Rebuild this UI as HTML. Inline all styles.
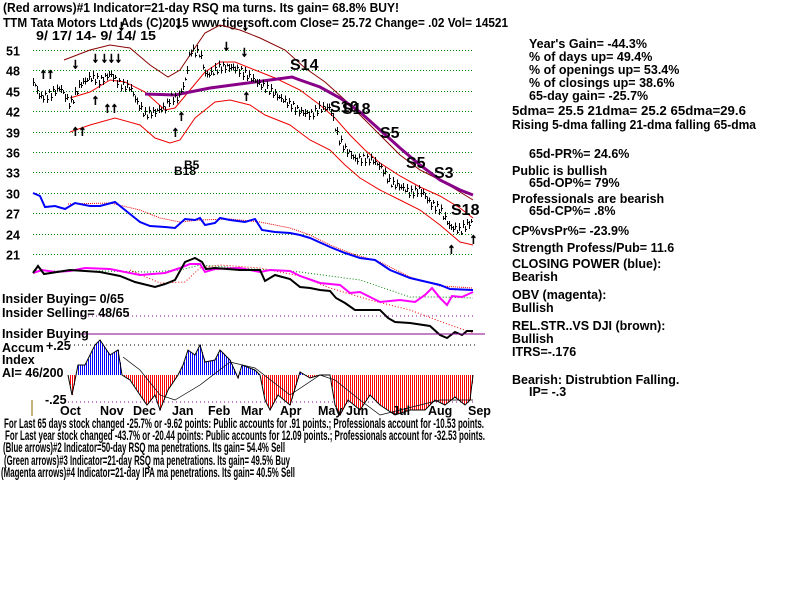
<!DOCTYPE html>
<html><head><meta charset="utf-8"><style>
body{margin:0;background:#fff;width:800px;height:600px;overflow:hidden}
svg{display:block}
text{font-family:"Liberation Sans",sans-serif;font-weight:bold;fill:#000}
.r{font-size:12.5px}
.b{font-size:14px;font-weight:normal}
line{shape-rendering:crispEdges}
</style></head><body>
<svg id="s" width="800" height="600" viewBox="0 0 800 600">
<text x="3" y="12" font-size="13" textLength="396" lengthAdjust="spacingAndGlyphs">(Red arrows)#1 Indicator=21-day RSQ ma turns. Its gain= 68.8% BUY!</text>
<text x="3" y="27" font-size="13" textLength="505" lengthAdjust="spacingAndGlyphs">TTM   Tata Motors Ltd Ads   (C)2015 www.tigersoft.com     Close=  25.72  Change= .02 Vol= 14521</text>
<text x="36" y="40" font-size="13" textLength="120" lengthAdjust="spacingAndGlyphs">9/ 17/ 14-  9/ 14/ 15</text>
<g id="grid" stroke="#080" stroke-dasharray="1,2" stroke-width="1"></g>
<g id="lab"></g>
<g fill="none" stroke-width="1">
<polyline stroke="#800" points="64,60 90,50 110,45 130,48 150,65 168,77 180,70 190,55 205,33 220,25 240,30 260,38 285,50 305,68 325,82 345,100 360,115 380,135 400,155 420,170 440,180 460,192 473,200"/>
<polyline stroke="#e00" points="70,98 90,92 110,80 125,82 145,92 165,110 175,108 190,90 205,72 220,62 235,62 255,70 275,78 300,90 320,105 335,118 350,135 365,150 380,163 400,176 420,187 440,196 460,208 473,218"/>
<polyline stroke="#e00" points="70,132 90,125 115,118 140,125 155,138 170,143 180,140 195,118 215,102 230,100 250,105 265,115 290,125 310,140 330,150 345,165 360,178 380,190 400,200 420,210 440,225 460,242 473,245"/>
<polyline stroke="#808" stroke-width="3" points="145,94 175,95 190,92 210,88 240,84 270,80 292,77 300,80 320,87 340,98 360,112 380,130 400,148 420,165 440,180 460,190 473,195"/>
<polyline stroke="#e00" stroke-dasharray="1,1" points="68,204 110,203 140,210 160,218 180,222 200,220 230,219 260,222 290,228 310,235 330,245 350,253 380,262 410,277 440,286 473,288"/>
<polyline stroke="#00f" stroke-width="2" points="33,193 40,196 45,207 55,206 65,209 75,203 90,206 100,206 115,202 125,210 140,222 150,226 165,227 175,228 185,219 195,220 200,218 205,225 215,223 220,218 230,220 245,222 255,219 262,230 275,232 290,233 300,235 310,238 330,247 345,253 360,258 375,260 390,270 410,278 440,285 450,289 473,290"/>
<polyline stroke="#080" stroke-dasharray="1,2" points="33,271 100,271 150,272 180,270 200,265 240,268 300,272 360,280 410,297 440,297 473,298"/>
<polyline stroke="#e00" stroke-dasharray="1,2" points="130,270 160,283 185,282 200,268 220,265 260,268 300,276 330,288 370,300 410,310 450,325 473,333"/>
<polyline stroke="#f0f" stroke-width="2" points="33,273 42,270 55,272 70,271 85,268 110,269 140,275 165,273 180,268 190,264 200,264 205,272 215,269 240,268 260,272 270,270 290,271 300,276 320,283 340,285 350,293 360,292 370,297 380,302 400,300 415,302 425,295 432,288 440,298 447,305 452,296 462,297 473,292"/>
<polyline stroke="#000" stroke-width="2" points="33,273 38,266 44,274 70,270 100,272 120,276 135,282 155,287 165,284 175,280 185,262 195,258 202,262 206,269 215,268 240,270 260,270 265,281 275,275 290,279 300,287 310,288 320,290 330,291 336,298 345,303 355,310 380,310 388,318 395,322 410,323 430,326 440,335 447,338 455,332 462,335 467,331 473,331"/>
</g>
<line x1="80" y1="334" x2="485" y2="334" stroke="#808" stroke-width="1"/>
<line x1="80" y1="316" x2="475" y2="316" stroke="#808" stroke-dasharray="1,3"/>
<line x1="70" y1="345" x2="475" y2="345" stroke="#000" stroke-dasharray="1,3"/>
<line x1="60" y1="402" x2="475" y2="402" stroke="#808" stroke-dasharray="1,3"/>
<line x1="32" y1="400" x2="32" y2="416" stroke="#860"/>
<g id="ai"></g>
<g id="px" stroke="#000"></g>
<g font-size="16">
<text x="290" y="70">S14</text><text x="330" y="112">S10</text><text x="342" y="114">S18</text>
<text x="380" y="138">S5</text><text x="406" y="168">S5</text><text x="434" y="178">S3</text><text x="451" y="215">S18</text>
<text x="174" y="175" font-size="12">B18</text><text x="184" y="169" font-size="12">B5</text>
</g>
<g class="r">
<text x="2" y="303">Insider Buying= 0/65</text>
<text x="2" y="317">Insider Selling= 48/65</text>
<text x="2" y="338">Insider Buying</text>
<text x="2" y="352">Accum</text><text x="46" y="350">+.25</text>
<text x="2" y="364">Index</text>
<text x="2" y="377">AI= 46/200</text>
<text x="45" y="404">-.25</text>
<text x="60" y="415">Oct</text><text x="100" y="415">Nov</text><text x="133" y="415">Dec</text><text x="172" y="415">Jan</text><text x="208" y="415">Feb</text><text x="241" y="415">Mar</text><text x="280" y="415">Apr</text><text x="318" y="415">May</text><text x="346" y="415">Jun</text><text x="392" y="415">Jul</text><text x="428" y="415">Aug</text><text x="468" y="415">Sep</text>
</g>
<g class="r">
<text x="529" y="48">Year's Gain= -44.3%</text>
<text x="529" y="61">% of days up= 49.4%</text>
<text x="529" y="74">% of openings up= 53.4%</text>
<text x="529" y="87">% of closings up= 38.6%</text>
<text x="529" y="100">65-day gain= -25.7%</text>
<text x="512" y="115" textLength="234" lengthAdjust="spacingAndGlyphs">5dma= 25.5 21dma= 25.2 65dma=29.6</text>
<text x="512" y="129" textLength="244" lengthAdjust="spacingAndGlyphs">Rising 5-dma  falling 21-dma  falling 65-dma</text>
<text x="529" y="158">65d-PR%= 24.6%</text>
<text x="512" y="175">Public is bullish</text>
<text x="529" y="187">65d-OP%= 79%</text>
<text x="512" y="203">Professionals are bearish</text>
<text x="529" y="215">65d-CP%= .8%</text>
<text x="512" y="235">CP%vsPr%= -23.9%</text>
<text x="512" y="252">Strength Profess/Pub= 11.6</text>
<text x="512" y="268">CLOSING POWER (blue):</text>
<text x="512" y="281">Bearish</text>
<text x="512" y="299">OBV (magenta):</text>
<text x="512" y="312">Bullish</text>
<text x="512" y="330">REL.STR..VS DJI (brown):</text>
<text x="512" y="343">Bullish</text>
<text x="512" y="356">ITRS=-.176</text>
<text x="512" y="384">Bearish: Distrubtion Falling.</text>
<text x="529" y="396">IP= -.3</text>
</g>
<g class="b">
<text x="4" y="428" textLength="480" lengthAdjust="spacingAndGlyphs">For Last 65 days stock changed -25.7% or -9.62 points:  Public accounts for  .91 points.;  Professionals account for -10.53 points.</text>
<text x="5" y="440" textLength="480" lengthAdjust="spacingAndGlyphs">For Last year stock changed -43.7% or -20.44 points:  Public accounts for  12.09 points.;  Professionals account for -32.53 points.</text>
<text x="3" y="452" textLength="282" lengthAdjust="spacingAndGlyphs">(Blue arrows)#2 Indicator=50-day RSQ ma penetrations. Its gain= 54.4% Sell</text>
<text x="4" y="465" textLength="286" lengthAdjust="spacingAndGlyphs">(Green arrows)#3 Indicator=21-day RSQ ma penetrations. Its gain= 49.5% Buy</text>
<text x="1" y="477" textLength="294" lengthAdjust="spacingAndGlyphs">(Magenta arrows)#4 Indicator=21-day IPA ma penetrations. Its gain= 40.5% Sell</text>
</g>
</svg>
<script>
var NS="http://www.w3.org/2000/svg";
function el(p,t,a,tx){var e=document.createElementNS(NS,t);for(var k in a)e.setAttribute(k,a[k]);if(tx)e.textContent=tx;document.getElementById(p).appendChild(e);}
var labs=[51,48,45,42,39,36,33,30,27,24,21];
labs.forEach(function(v,i){var y=Math.round(50+i*20.4)+0.5;el("grid","line",{x1:33,y1:y,x2:473,y2:y});el("lab","text",{x:6,y:y+5,"font-size":12.5},String(v));});
function interp(pts,x){for(var i=0;i<pts.length-1;i++){if(x>=pts[i][0]&&x<=pts[i+1][0]){var t=(x-pts[i][0])/(pts[i+1][0]-pts[i][0]);return pts[i][1]+t*(pts[i+1][1]-pts[i][1]);}}return pts[pts.length-1][1];}
var ai=[[68,375],[72,395],[78,365],[85,365],[95,345],[100,340],[110,355],[118,350],[122,375],[130,380],[140,395],[147,405],[155,395],[160,410],[168,390],[178,375],[183,365],[188,350],[195,355],[200,345],[205,362],[215,360],[220,350],[230,360],[238,378],[242,365],[255,370],[260,375],[265,400],[270,410],[278,395],[290,405],[300,372],[310,378],[320,375],[330,375],[335,405],[340,415],[348,400],[360,410],[370,395],[380,405],[395,415],[410,410],[425,410],[435,400],[445,405],[455,397],[465,405],[470,400],[473,375]];
var pl="";for(var x=68;x<=473;x+=2){var y=interp(ai,x);el("ai","line",{x1:x+0.5,y1:375,x2:x+0.5,y2:y,stroke:y<375?"#00f":"#f00","stroke-width":1});}
ai.forEach(function(p){pl+=p[0]+","+p[1]+" ";});
el("ai","polyline",{points:pl,fill:"none",stroke:"#000","stroke-width":1});
el("ai","polyline",{points:"123,357 140,370 160,395 175,400 200,385 230,362 255,368 290,395 320,375 335,380 360,400 380,415 400,410 440,400 473,400",fill:"none",stroke:"#000","stroke-width":0.7});
var pr=[[33,46.5],[40,44],[50,44.5],[60,45.5],[70,43],[80,46],[90,47],[100,46.5],[110,47.5],[120,46],[130,45.5],[138,43],[145,41.5],[155,42],[165,42.5],[170,44],[178,44],[185,46.5],[190,51],[200,50.5],[205,47.5],[210,47.5],[220,48.5],[230,48.5],[240,48],[250,47],[260,46],[270,45],[280,44],[290,43],[300,42],[310,41.5],[320,42.5],[330,42.5],[338,38],[345,36.5],[355,35],[370,35],[380,34],[390,31.5],[400,31],[410,30],[420,30.5],[430,28.5],[440,27.5],[450,25],[460,24.5],[470,25.7]];
for(var x=33;x<=471;x+=2){var p=interp(pr,x)+Math.sin(x*1.7)*0.5;var y=Math.round(50+(51-p)*6.8);var h=Math.round(3+Math.abs(Math.sin(x*0.9))*5);el("px","line",{x1:x+0.5,y1:y-h/2,x2:x+0.5,y2:y+h/2,"stroke-width":1});el("px","line",{x1:x,y1:y+0.5,x2:x+2,y2:y+0.5,"stroke-width":1});}
[[72,68,"↓"],[92,62,"↓"],[101,62,"↓↓↓"],[223,50,"↓"],[241,56,"↓"],[92,104,"↑"],[104,112,"↑↑"],[72,135,"↑↑"],[172,136,"↑"],[243,100,"↑"],[448,253,"↑"],[470,243,"↑"],[40,78,"↑↑"]].forEach(function(a){el("px","text",{x:a[0],y:a[1],"font-size":14,style:"fill:#e00"},a[2]);});
[[175,28,"↓"],[118,30,"↓"],[242,30,"↓"],[178,120,"↑"]].forEach(function(a){el("px","text",{x:a[0],y:a[1],"font-size":14,style:"fill:#00f"},a[2]);});
</script>
</body></html>
